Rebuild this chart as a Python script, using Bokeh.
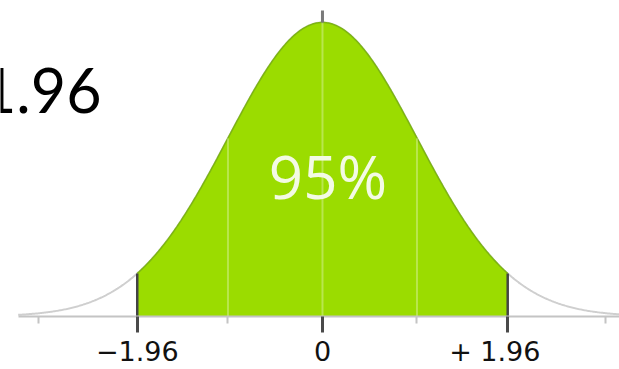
import numpy as np
from bokeh.plotting import figure
from bokeh.models import Range1d, FixedTicker, LinearAxis
from bokeh.core.properties import value
from bokeh.embed import file_html
from bokeh.resources import INLINE

# Standard normal distribution and the central interval shown
mean = 0.0
sd = 1.0
z_crit = 1.96
coverage_label = "95%"
heading = "1.96"

# Tick positions and labels along the z axis
major_ticks = [-1.96, 0.0, 1.96]
major_labels = {-1.96: "\u22121.96", 0.0: "0", 1.96: "+ 1.96\u00a0\u00a0\u00a0"}
minor_ticks = [-3.0, -1.0, 1.0, 3.0]
inner_grid = [-1.0, 0.0, 1.0]


def density(z):
    return np.exp(-0.5 * ((z - mean) / sd) ** 2) / (sd * np.sqrt(2 * np.pi))


peak = density(mean)

p = figure(width=619, height=369, output_backend="svg", toolbar_location=None,
           x_range=Range1d(-3.407, 3.143), y_range=Range1d(0, peak * 316 / 294),
           min_border_left=0, min_border_right=0, min_border_top=0,
           min_border_bottom=53)
p.xaxis.visible = False
p.yaxis.visible = False
p.xgrid.visible = False
p.ygrid.visible = False
p.outline_line_color = None
p.background_fill_color = "white"
p.border_fill_color = "white"

# z axis along the baseline
axis = LinearAxis(ticker=FixedTicker(ticks=major_ticks, minor_ticks=minor_ticks),
                  major_label_overrides=major_labels, bounds=(-3.22, 3.2))
axis.axis_line_color = "#c4c4c4"
axis.axis_line_width = 2
axis.major_tick_line_color = "#4a4a4a"
axis.major_tick_line_width = 3
axis.major_tick_out = 16
axis.major_tick_in = 0
axis.minor_tick_line_color = "#c4c4c4"
axis.minor_tick_line_width = 2
axis.minor_tick_out = 7
axis.minor_tick_in = 0
axis.major_label_standoff = 3
axis.major_label_text_font = "DejaVu Sans"
axis.major_label_text_font_size = "27px"
axis.major_label_text_color = "#111111"
p.add_layout(axis, "below")

# Full curve (grey tails)
zs = np.linspace(-3.22, 3.2, 600)
p.line(zs, density(zs), line_color="#cfcfcf", line_width=2)

# Shaded central region
zin = np.linspace(-z_crit, z_crit, 400)
p.varea(x=zin, y1=0, y2=density(zin), fill_color="#9bdc00")
p.line(zin, density(zin), line_color="#7db512", line_width=1.5)

# Faint gridlines inside the shaded region
p.segment(x0=inner_grid, y0=[0] * 3, x1=inner_grid, y1=list(density(np.array(inner_grid))),
          line_color="white", line_alpha=0.3, line_width=2)

# Vertical axis stub above the peak
p.segment(x0=[mean], y0=[peak], x1=[mean], y1=[peak * 306 / 294],
          line_color="#7a7a7a", line_width=3)

# Critical value markers
crit = [-z_crit, z_crit]
p.segment(x0=crit, y0=[0, 0], x1=crit, y1=list(density(np.array(crit))),
          line_color="#444444", line_width=2.5)

# Coverage label
p.text(x=[0.058], y=[0.1913], text=[coverage_label], text_align="center",
       text_baseline="alphabetic", text_color="#f3fae4",
       text_font=value("Open Sans"), text_font_size="60px")

# Heading fragment at the top left
p.text(x=[-2.338], y=[0.3066], text=[heading], text_align="right",
       text_baseline="alphabetic", text_color="#000000",
       text_font=value("Lato"), text_font_size="61px")

open("out.html", "w").write(file_html(p, INLINE))
